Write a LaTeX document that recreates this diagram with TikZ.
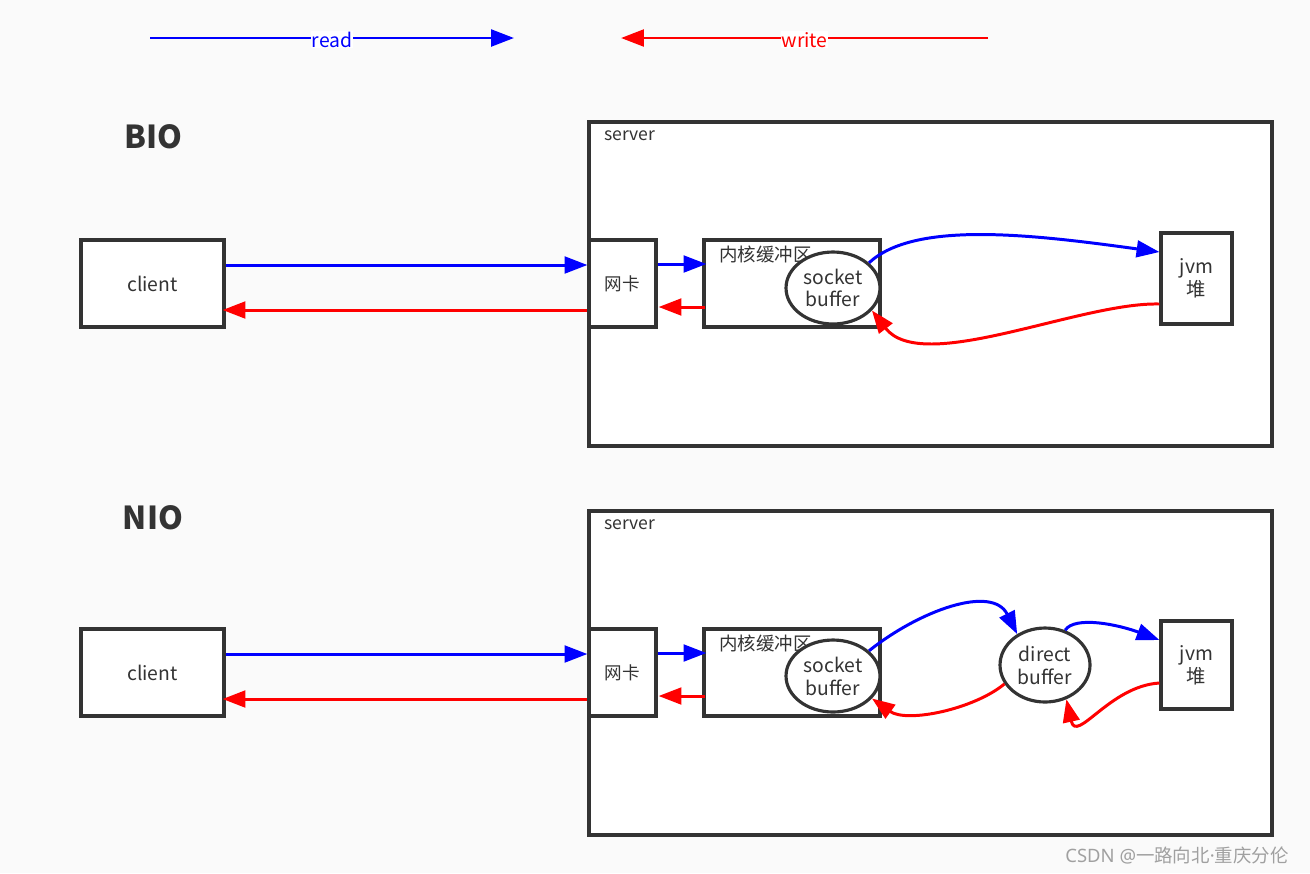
\documentclass[tikz,border=0pt]{standalone}
\usepackage{fontspec}
\setmainfont{Noto Sans CJK SC}
\newfontfamily\latinfont{Noto Sans}
\usetikzlibrary{arrows.meta,calc,shapes.geometric}
\definecolor{bg}{HTML}{FAFAFA}
\definecolor{ink}{HTML}{333333}
\definecolor{rd}{HTML}{FF0000}
\definecolor{bl}{HTML}{0000FF}
\definecolor{wm}{HTML}{A0A0A0}
\begin{document}
\begin{tikzpicture}[x=0.02cm,y=-0.02cm,
  boxst/.style={draw=ink,line width=1.8pt,fill=white,inner sep=0pt,font=\fontsize{11}{13}\selectfont,text=ink,align=center},
  ellst/.style={ellipse,draw=ink,line width=1.8pt,fill=white,inner sep=0pt,font=\fontsize{11}{13}\selectfont,text=ink,align=center},
  smalltxt/.style={font=\fontsize{10}{12}\selectfont,text=ink,inner sep=0pt},
  titlest/.style={font=\fontsize{18}{20}\selectfont\bfseries,text=ink,inner sep=0pt},
  rdarrow/.style={draw=bl,line width=1.7pt,-{Triangle[length=13pt,width=9.5pt]}},
  wrarrow/.style={draw=rd,line width=1.7pt,-{Triangle[length=13pt,width=9.5pt]}},
  lbl/.style={fill=white,inner sep=0.5pt,font=\fontsize{11}{12}\selectfont}
]
\fill[bg] (0,0) rectangle (1310,873);
\useasboundingbox (0,0) rectangle (1310,873);

% legend
\coordinate (ra) at (150,38);
\coordinate (rb) at (514,38);
\coordinate (wa) at (988,38);
\coordinate (wb) at (621,38);
\draw[rdarrow] (ra) -- node[lbl,text=bl,yshift=-1pt]{read} (rb);
\draw[wrarrow] (wa) -- node[lbl,text=rd,yshift=-1pt]{write} (wb);

% ================= BIO =================
\node[titlest] (bio) at (153,137) {BIO};
\node[boxst,minimum width=13.66cm,minimum height=6.48cm] (srv1) at (930.5,284) {};
\node[smalltxt,anchor=west] (srvl1) at (604,136) {server};
\node[boxst,minimum width=2.86cm,minimum height=1.74cm] (cli1) at (152.5,283.5) {client};
\node[boxst,minimum width=1.34cm,minimum height=1.74cm,font=\fontsize{10}{12}\selectfont] (nic1) at (622.5,283.5) {网卡};
\node[boxst,minimum width=3.52cm,minimum height=1.74cm] (ker1) at (792,283.5) {};
\node[smalltxt,font=\fontsize{10.5}{12}\selectfont,anchor=west] (kerl1) at (719,254) {内核缓冲区};
\node[ellst,minimum width=1.88cm,minimum height=1.44cm] (sock1) at (833,288) {socket\\buffer};
\node[boxst,minimum width=1.42cm,minimum height=1.82cm] (jvm1) at (1196.5,278.5) {jvm\\堆};

\draw[rdarrow] ($(cli1.east)+(0,-18.5)$) -- ($(nic1.west)+(0,-18.5)$);
\draw[wrarrow] ($(nic1.west)+(0,26.5)$) -- ($(cli1.east)+(-3,26.5)$);
\draw[rdarrow] ($(nic1.east)+(0,-19.5)$) -- ($(ker1.west)+(4,-19.5)$);
\draw[wrarrow] ($(ker1.west)+(3,23.5)$) -- ($(nic1.east)+(1,23.5)$);
\draw[rdarrow] (sock1.35) .. controls +(45,-42) and +(-130,-18) .. ($(jvm1.west)+(0,-26.5)$);
\draw[wrarrow] ($(jvm1.west)+(0,25.5)$) .. controls +(-80,-2) and +(50,65) .. (sock1.-30);

% ================= NIO =================
\node[titlest] (nio) at (153,518) {NIO};
\node[boxst,minimum width=13.66cm,minimum height=6.48cm] (srv2) at (930.5,673) {};
\node[smalltxt,anchor=west] (srvl2) at (604,525) {server};
\node[boxst,minimum width=2.86cm,minimum height=1.74cm] (cli2) at (152.5,672.5) {client};
\node[boxst,minimum width=1.34cm,minimum height=1.74cm,font=\fontsize{10}{12}\selectfont] (nic2) at (622.5,672.5) {网卡};
\node[boxst,minimum width=3.52cm,minimum height=1.74cm] (ker2) at (792,672.5) {};
\node[smalltxt,font=\fontsize{10.5}{12}\selectfont,anchor=west] (kerl2) at (719,643) {内核缓冲区};
\node[ellst,minimum width=1.88cm,minimum height=1.44cm] (sock2) at (833,676) {socket\\buffer};
\node[ellst,minimum width=1.8cm,minimum height=1.48cm] (dir2) at (1045,665) {direct\\buffer};
\node[boxst,minimum width=1.42cm,minimum height=1.76cm] (jvm2) at (1196.5,665) {jvm\\堆};

\draw[rdarrow] ($(cli2.east)+(0,-18.5)$) -- ($(nic2.west)+(0,-18.5)$);
\draw[wrarrow] ($(nic2.west)+(0,26.5)$) -- ($(cli2.east)+(-3,26.5)$);
\draw[rdarrow] ($(nic2.east)+(0,-19.5)$) -- ($(ker2.west)+(4,-19.5)$);
\draw[wrarrow] ($(ker2.west)+(3,23.5)$) -- ($(nic2.east)+(1,23.5)$);
\draw[rdarrow] (sock2.35) .. controls +(50,-40) and +(-25,-50) .. (dir2.132);
\draw[rdarrow] (dir2.60) .. controls +(10,-15) and +(-40,-15) .. ($(jvm2.west)+(0,-25)$);
\draw[wrarrow] ($(jvm2.west)+(0,18)$) .. controls +(-50,3) and +(10,45) .. (dir2.-58);
\draw[wrarrow] (dir2.205) .. controls +(-30,25) and +(35,25) .. (sock2.-30);

% watermark
\node[font=\fontsize{10.5}{12}\selectfont,text=wm,inner sep=0pt] (wmk) at (1177,855) {{\latinfont CSDN @}一路向北{\latinfont ·}重庆分伦};
\end{tikzpicture}
\end{document}
